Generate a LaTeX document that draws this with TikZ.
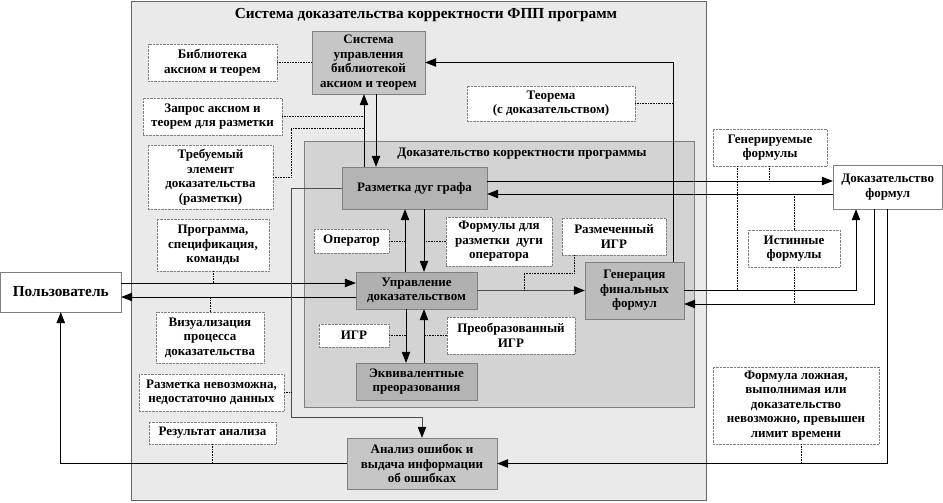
\documentclass[tikz,border=0pt]{standalone}
\usepackage{fontspec}
\setmainfont{Liberation Serif}
\usetikzlibrary{arrows.meta}
\definecolor{fonsys}{HTML}{EAEAEA}
\definecolor{fondok}{HTML}{D3D3D3}
\definecolor{svetlblok}{HTML}{C6C6C6}
\definecolor{temnblok}{HTML}{B4B4B4}
\newcommand{\krupno}{\fontsize{15.3}{17}\selectfont}

\begin{document}
\begin{tikzpicture}[x=1pt,y=-1pt,
		>={Triangle[length=11pt,width=8.5pt]},
		font=\bfseries\fontsize{13}{14.5}\selectfont,
		blok/.style={draw=gray,align=center,inner sep=0pt},
		podpis/.style={draw=gray,densely dotted,fill=white,align=center,inner sep=0pt},
		svyaz/.style={line width=0.8pt,->},
		seraya/.style={gray!60!black,-{Triangle[length=11pt,width=8.5pt,color=black]}},
		punktir/.style={densely dotted,line width=0.6pt}]
		\useasboundingbox (0,0) rectangle (943,503);
		\draw[gray!80!black,fill=fonsys] (131,1) rectangle (706,500);
		\node (zagl) at (426,15) {\krupno Система доказательства корректности ФПП программ};
		\draw[gray,fill=fondok] (304,141) rectangle (694,407);
		\node (zagldok) at (522,154) {Доказательство корректности программы};

		\node[blok,fill=svetlblok,minimum width=113pt,minimum height=63pt] (syslib) at (368.5,62.5) {Система\\управления\\библиотекой\\аксиом и теорем};
		\node[blok,fill=temnblok,minimum width=145pt,minimum height=42pt] (razm) at (414.5,188) {Разметка дуг графа};
		\node[blok,fill=temnblok!105,minimum width=121pt,minimum height=37pt] (upr) at (416.5,290.5) {Управление\\доказательством};
		\node[blok,fill=svetlblok!95!black,minimum width=99pt,minimum height=57pt] (gen) at (634.5,290.5) {Генерация\\финальных\\формул};
		\node[blok,fill=temnblok,minimum width=121pt,minimum height=37pt] (ekv) at (416.5,381.5) {Эквивалентные\\преоразования};
		\node[blok,fill=svetlblok,minimum width=150pt,minimum height=51pt] (anal) at (422,463.5) {Анализ ошибок и\\выдача информации\\об ошибках};
		\node[blok,fill=white,minimum width=120.5pt,minimum height=40pt] (polz) at (60.75,292) {\krupno Пользователь};
		\node[blok,fill=white,minimum width=109.5pt,minimum height=44pt] (dokf) at (887.75,187) {Доказательство\\формул};

		\node[podpis,minimum width=129pt,minimum height=37pt] (bibl) at (212.5,62.5) {Библиотека\\аксиом и теорем};
		\node[podpis,minimum width=139pt,minimum height=37pt] (zapros) at (212.5,116.5) {Запрос аксиом и\\теорем для разметки};
		\node[podpis,minimum width=125pt,minimum height=64pt] (treb) at (210.5,177) {Требуемый\\элемент\\доказательства\\(разметки)};
		\node[podpis,minimum width=112pt,minimum height=52pt] (progr) at (213,245) {Программа,\\спецификация,\\команды};
		\node[podpis,minimum width=108pt,minimum height=51pt] (vizual) at (210,337.5) {Визуализация\\процесса\\доказательства};
		\node[podpis,minimum width=145pt,minimum height=37pt] (nevozm) at (211.5,392.5) {Разметка невозможна,\\недостаточно данных};
		\node[podpis,minimum width=127pt,minimum height=22pt] (rezult) at (212.5,433) {Результат анализа};
		\node[podpis,minimum width=168pt,minimum height=35pt] (teorema) at (551,103.5) {Теорема\\(с доказательством)};
		\node[podpis,minimum width=75pt,minimum height=24pt] (oper) at (351.5,241) {Оператор};
		\node[podpis,minimum width=106pt,minimum height=49pt] (formd) at (499,241.5) {Формулы для\\разметки~ дуги\\оператора};
		\node[podpis,minimum width=104pt,minimum height=37pt] (razmigr) at (614,236.5) {Размеченный\\ИГР};
		\node[podpis,minimum width=70pt,minimum height=23pt] (igr) at (354,335.5) {ИГР};
		\node[podpis,minimum width=128pt,minimum height=37pt] (preobr) at (511,335.5) {Преобразованный\\ИГР};
		\node[podpis,minimum width=114pt,minimum height=37pt] (generir) at (770,147.5) {Генерируемые\\формулы};
		\node[podpis,minimum width=92pt,minimum height=37pt] (istin) at (794,248.5) {Истинные\\формулы};
		\node[podpis,minimum width=166pt,minimum height=77pt] (lozh) at (796,405.5) {Формула ложная,\\выполнимая или\\доказательство\\невозможно, превышен\\лимит времени};

		\draw[svyaz] (razm.north -| 364,0) -- (syslib.south -| 364,0);
		\draw[svyaz] (syslib.south -| 376,0) -- (razm.north -| 376,0);
		\draw[svyaz] (gen.north -| 673,0) |- (syslib.east);
		\draw[svyaz] (razm.east |- 0,181) -- (dokf.west |- 0,181);
		\draw[svyaz] (dokf.west |- 0,194) -- (razm.east |- 0,194);
		\draw[svyaz] (gen.east |- 0,290) -| (dokf.south -| 856,0);
		\draw[svyaz] (dokf.south -| 874,0) |- (gen.east |- 0,304);
		\draw[svyaz] (dokf.south -| 887,0) |- (anal.east);
		\draw[svyaz] (polz.east |- 0,283) -- (upr.west |- 0,283);
		\draw[svyaz] (upr.west |- 0,297) -- (polz.east |- 0,297);
		\draw[svyaz] (anal.west) -| (polz.south);
		\draw[seraya,line width=1.1pt] (upr.east) -- (gen.west);
		\draw[svyaz] (upr.north -| 405,0) -- (razm.south -| 405,0);
		\draw[svyaz] (razm.south -| 424,0) -- (upr.north -| 424,0);
		\draw[svyaz] (upr.south -| 406,0) -- (ekv.north -| 406,0);
		\draw[svyaz] (ekv.north -| 424,0) -- (upr.south -| 424,0);
		\draw[seraya,line width=0.6pt] (razm.west) -| (291,417) -| (anal.north);

		\draw[punktir] (bibl.east) -- (syslib.west);
		\draw[punktir] (zapros.east) -- (zapros.east -| 364,0);
		\draw[punktir] (treb.east) -| (291,128) -- (364,128);
		\draw[punktir] (progr.south) -- (progr.south |- 0,283);
		\draw[punktir] (vizual.north) -- (vizual.north |- 0,297);
		\draw[punktir] (nevozm.east) -- (nevozm.east -| 291,0);
		\draw[punktir] (rezult.south) -- (rezult.south |- 0,463.5);
		\draw[punktir] (teorema.east) -- (teorema.east -| 673,0);
		\draw[punktir] (oper.east) -- (oper.east -| 405,0);
		\draw[punktir] (formd.west) -- (formd.west -| 424,0);
		\draw[punktir] (razmigr.south -| 574,0) |- (524,273) -- (524,290.5);
		\draw[punktir] (igr.east) -- (igr.east -| 406,0);
		\draw[punktir] (preobr.west) -- (preobr.west -| 424,0);
		\draw[punktir] (generir.south -| 737,0) -- (737,290);
		\draw[punktir] (generir.south -| 769,0) -- (769,181);
		\draw[punktir] (istin.north) -- (istin.north |- 0,194);
		\draw[punktir] (istin.south) -- (istin.south |- 0,304);
		\draw[punktir] (lozh.south -| 801,0) -- (801,463.5);
	\end{tikzpicture}
\end{document}
